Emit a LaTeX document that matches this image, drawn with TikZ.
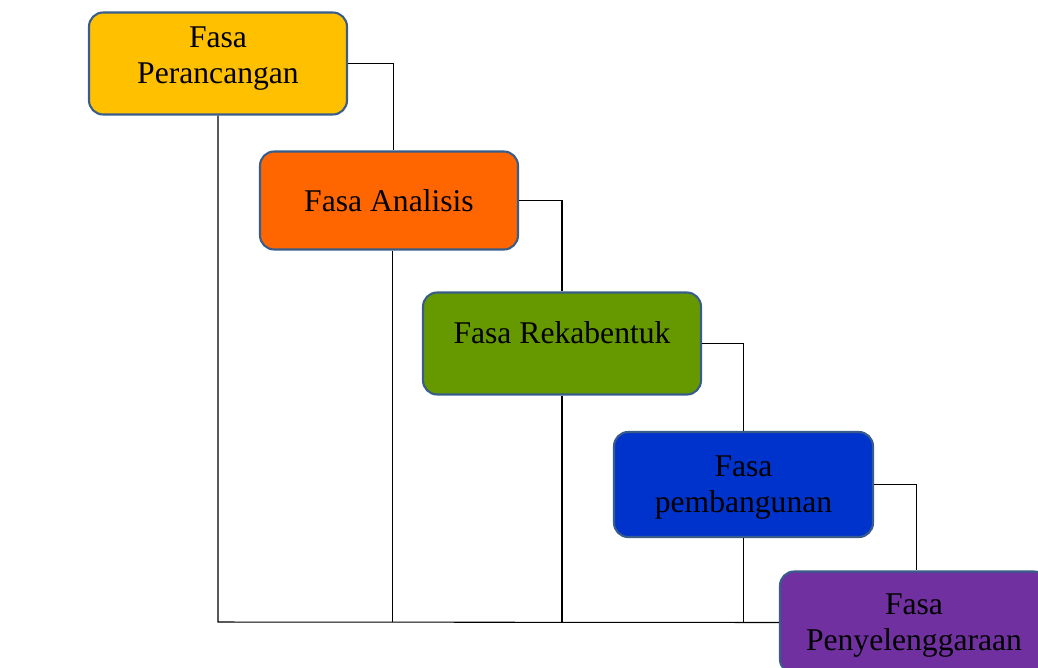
\documentclass[tikz,border=0pt]{standalone}
\usepackage{fontspec}
\setmainfont{Liberation Serif}

\definecolor{fasaedge}{HTML}{385D8A}
\definecolor{kuning}{HTML}{FFC000}
\definecolor{jingga}{HTML}{FF6600}
\definecolor{hijau}{HTML}{669900}
\definecolor{biru}{HTML}{0033CC}
\definecolor{ungu}{HTML}{7030A0}

\tikzset{
  fasa/.style={rectangle,rounded corners=8pt,draw=fasaedge,line width=1.2pt,
    minimum height=2.04cm,inner sep=0pt,align=center,
    font=\fontsize{18}{20.5}\selectfont},
  garis/.style={semithick,black}
}

\begin{document}
\begin{tikzpicture}[x=0.02cm,y=-0.02cm]
    \useasboundingbox (0,0) rectangle (1038,667);
    \node (perancangan) at (218,63.5) [fasa,fill=kuning,minimum width=5.16cm,text depth=10pt] {Fasa\\Perancangan};
    \node (analisis) at (389,200.5) [fasa,fill=jingga,minimum width=5.16cm,minimum height=1.96cm] {Fasa Analisis};
    \node (rekabentuk) at (562,343.5) [fasa,fill=hijau,minimum width=5.56cm,text height=12pt,text depth=12pt] {Fasa Rekabentuk};
    \node (pembangunan) at (743.5,484.5) [fasa,fill=biru,minimum width=5.18cm,minimum height=2.1cm,text depth=0pt] {Fasa\\pembangunan};
    \node (penyelenggaraan) at (914,622.5) [fasa,fill=ungu,minimum width=5.36cm,text depth=0pt] {Fasa\\Penyelenggaraan};
    \coordinate (dasar) at (218,622);
    % langkah ke fasa berikutnya
    \draw[garis] (perancangan.east) -| ([xshift=2.6pt]analisis.north);
    \draw[garis] (analisis.east) -| (rekabentuk.north);
    \draw[garis] (rekabentuk.east) -| (pembangunan.north);
    \draw[garis] (pembangunan.east) -| ([xshift=1.6pt]penyelenggaraan.north);
    % garis balik ke bawah
    \draw[garis] (perancangan.south) -- (dasar) -- (penyelenggaraan.west);
    \draw[garis] ([xshift=2.2pt]analisis.south) -- ([xshift=2.2pt]analisis.south |- dasar);
    \foreach \fs in {rekabentuk,pembangunan}
      \draw[garis] (\fs.south) -- (\fs.south |- dasar);
\end{tikzpicture}
\end{document}
